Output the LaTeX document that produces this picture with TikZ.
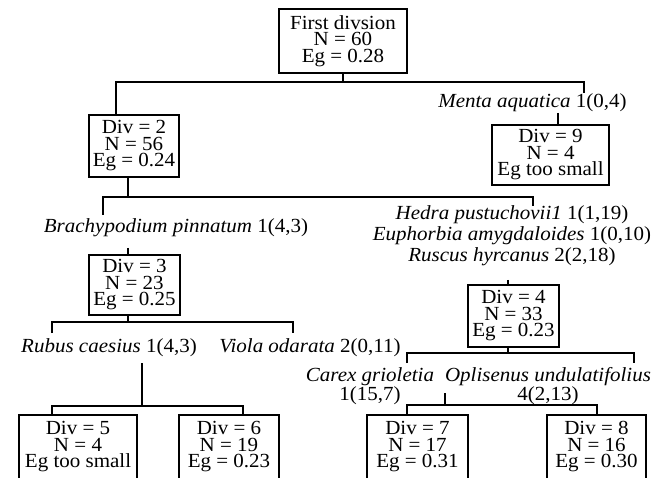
\documentclass[tikz,border=0pt]{standalone}
\usepackage{fontspec}
\setmainfont{Liberation Serif}[FakeStretch=1.05]
\begin{document}
\begin{tikzpicture}[x=1pt,y=-1pt,
  divbox/.style={draw, line width=1.8pt, align=center, inner sep=0pt,
    font=\fontsize{20}{16.5}\selectfont},
  splitlbl/.style={inner sep=0pt, align=center, font=\fontsize{20}{20}\selectfont},
  conn/.style={line width=1.3pt}]
\useasboundingbox (0,0) rectangle (661,478);
\clip (0,0) rectangle (661,478);

% division boxes
\node[divbox, minimum width=128pt, minimum height=64pt] (root) at (343,41) {First divsion\\N = 60\\Eg = 0.28};
\node[divbox, minimum width=90pt, minimum height=62pt] (d2) at (134,146) {Div = 2\\N = 56\\Eg = 0.24};
\node[divbox, minimum width=117pt, minimum height=60pt] (d9) at (550.5,155) {Div = 9\\N = 4\\Eg too small};
\node[divbox, minimum width=91pt, minimum height=60pt] (d3) at (134.5,285) {Div = 3\\N = 23\\Eg = 0.25};
\node[divbox, minimum width=91pt, minimum height=62pt] (d4) at (513.5,316) {Div = 4\\N = 33\\Eg = 0.23};
\node[divbox, minimum width=118pt, minimum height=64pt] (d5) at (78,447) {Div = 5\\N = 4\\Eg too small};
\node[divbox, minimum width=100pt, minimum height=64pt] (d6) at (229,447) {Div = 6\\N = 19\\Eg = 0.23};
\node[divbox, minimum width=101pt, minimum height=64pt] (d7) at (417.5,447) {Div = 7\\N = 17\\Eg = 0.31};
\node[divbox, minimum width=99pt, minimum height=64pt] (d8) at (596.5,447) {Div = 8\\N = 16\\Eg = 0.30};

% indicator species labels
\node[splitlbl] (menta) at (532.5,103) {\textit{Menta aquatica} 1(0,4)};
\node[splitlbl] (brachy) at (176,228) {\textit{Brachypodium pinnatum} 1(4,3)};
\node[splitlbl, font=\fontsize{20}{21}\selectfont] (hedra) at (512,236)
  {\textit{Hedra pustuchovii1} 1(1,19)\\\textit{Euphorbia amygdaloides} 1(0,10)\\\textit{Ruscus hyrcanus} 2(2,18)};
\node[splitlbl] (rubus) at (109,348) {\textit{Rubus caesius} 1(4,3)};
\node[splitlbl] (viola) at (310,348) {\textit{Viola odarata} 2(0,11)};
\node[splitlbl, font=\fontsize{20}{17}\selectfont] (carex) at (370,386.5) {\textit{Carex grioletia}\\1(15,7)};
\node[splitlbl, font=\fontsize{20}{17}\selectfont] (oplis) at (548,386.5) {\textit{Oplisenus undulatifolius}\\4(2,13)};

% junction points
\coordinate (a0) at (343,82);  \coordinate (aL) at (116,82);  \coordinate (aR) at (584,82);
\coordinate (aRt) at (584,93);
\coordinate (m0) at (558,113);
\coordinate (b0) at (128,197); \coordinate (bL) at (103,197); \coordinate (bR) at (533,197);
\coordinate (bLt) at (103,215); \coordinate (bRt) at (533,206);
\coordinate (br0) at (128,248);
\coordinate (r0) at (508,280);
\coordinate (c0) at (128,322); \coordinate (cL) at (52,322);  \coordinate (cR) at (293,322);
\coordinate (cLt) at (52,333); \coordinate (cRt) at (293,333);
\coordinate (e0) at (142,363); \coordinate (e1) at (142,406);
\coordinate (eL) at (52,406);  \coordinate (eR) at (243,406);
\coordinate (f0) at (508,353); \coordinate (fL) at (407,353); \coordinate (fR) at (634,353);
\coordinate (fLt) at (407,363); \coordinate (fRt) at (634,363);
\coordinate (g0) at (445,393); \coordinate (g1) at (445,405);
\coordinate (gL) at (407,405); \coordinate (gR) at (597,405);

% connectors
\draw[conn] (root.south) -- (a0);
\draw[conn] (aL |- d2.north) -- (aL) -- (aR) -- (aRt);
\draw[conn] (m0) -- (m0 |- d9.north);
\draw[conn] (b0 |- d2.south) -- (b0);
\draw[conn] (bLt) -- (bL) -- (bR) -- (bRt);
\draw[conn] (br0) -- (br0 |- d3.north);
\draw[conn] (r0) -- (r0 |- d4.north);
\draw[conn] (c0 |- d3.south) -- (c0);
\draw[conn] (cLt) -- (cL) -- (cR) -- (cRt);
\draw[conn] (e0) -- (e1);
\draw[conn] (eL |- d5.north) -- (eL) -- (eR) -- (eR |- d6.north);
\draw[conn] (f0 |- d4.south) -- (f0);
\draw[conn] (fLt) -- (fL) -- (fR) -- (fRt);
\draw[conn] (g0) -- (g1);
\draw[conn] (gL |- d7.north) -- (gL) -- (gR) -- (gR |- d8.north);
\end{tikzpicture}
\end{document}
